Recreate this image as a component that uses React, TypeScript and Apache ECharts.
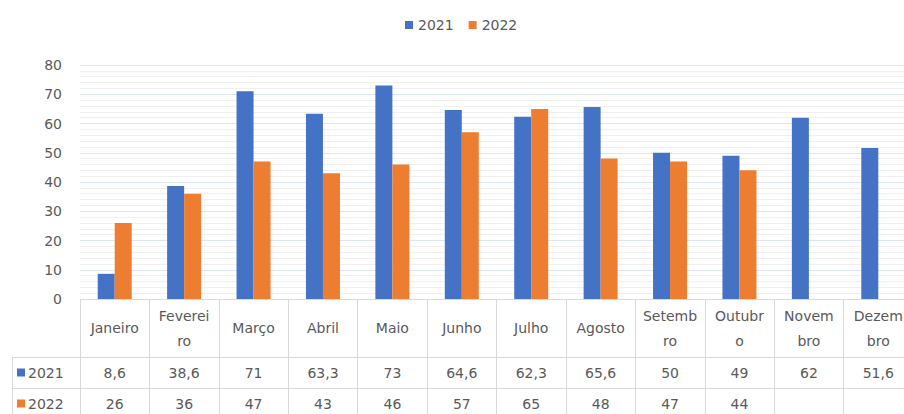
import React, { useEffect, useRef } from "react";
import * as echarts from "echarts";

const months = ["Janeiro","Fevereiro","Março","Abril","Maio","Junho","Julho","Agosto","Setembro","Outubro","Novembro","Dezembro"];
const monthBreaks = [0, 7, 0, 0, 0, 0, 0, 0, 6, 6, 5, 5];
const seriesNames = ["2021", "2022"];
const values2021 = [8.6, 38.6, 71, 63.3, 73, 64.6, 62.3, 65.6, 50, 49, 62, 51.6];
const values2022: (number | null)[] = [26, 36, 47, 43, 46, 57, 65, 48, 47, 44, null, null];
const colors = ["#4472C4", "#ED7D31"];
const yTicks = { min: 0, max: 80, interval: 10 };

const FONT = "DejaVu Sans";
const TEXT = "#595959";
const LINE = "#D9D9D9";

const fmt = (v: number | null) => (v === null ? "" : String(v).replace(".", ","));

export default function App() {
  const ref = useRef<HTMLDivElement>(null);
  useEffect(() => {
    if (!ref.current) return;
    const chart = echarts.init(ref.current, undefined, { renderer: "svg" });
    const gridTop = 65;
    const gridBottomY = 299;
    const row1 = 58;
    const row2 = 31;
    const tableLeft = 12;
    const gridLeft = 80;
    const commonAxis = {
      type: "category" as const,
      position: "bottom" as const,
      gridIndex: 0,
      boundaryGap: true,
      axisLine: { show: true, lineStyle: { color: LINE, width: 1 } },
      axisTick: { show: true, interval: 0, lineStyle: { color: LINE, width: 1 } },
      splitLine: { show: false },
    };
    chart.setOption({
      animation: false,
      textStyle: { fontFamily: FONT },
      legend: {
        data: seriesNames,
        left: 400,
        top: 13,
        itemWidth: 8,
        itemHeight: 8,
        itemGap: 15,
        icon: "rect",
        textStyle: { color: TEXT, fontSize: 14, fontFamily: FONT },
      },
      grid: { left: gridLeft, right: 0, top: gridTop, bottom: 414 - gridBottomY, containLabel: false },
      yAxis: {
        type: "value",
        min: yTicks.min,
        max: yTicks.max,
        interval: yTicks.interval,
        axisLine: { show: false },
        axisTick: { show: false },
        axisLabel: { color: TEXT, fontSize: 14, margin: 18, fontFamily: FONT },
        splitLine: { show: true, lineStyle: { color: "#DCE5F4", width: 1 } },
        minorTick: { show: false, splitNumber: 5 },
        minorSplitLine: { show: true, lineStyle: { color: "#F0F0F0", width: 1 } },
      },
      xAxis: [
        {
          ...commonAxis,
          data: months,
          offset: 0,
          axisTick: { ...commonAxis.axisTick, length: row1 },
          axisLabel: {
            interval: 0,
            color: TEXT,
            fontSize: 14,
            fontFamily: FONT,
            lineHeight: 25,
            verticalAlign: "middle",
            margin: row1 / 2,
            formatter: (v: string, i: number) => {
              const b = monthBreaks[i];
              return b ? v.slice(0, b) + "\n" + v.slice(b) : v;
            },
          },
        },
        {
          ...commonAxis,
          data: values2021.map(fmt),
          offset: row1,
          axisTick: { ...commonAxis.axisTick, length: row2 },
          axisLabel: { interval: 0, color: TEXT, fontSize: 14, fontFamily: FONT, verticalAlign: "middle", margin: row2 / 2 },
        },
        {
          ...commonAxis,
          data: values2022.map(fmt),
          offset: row1 + row2,
          axisTick: { ...commonAxis.axisTick, length: row2 },
          axisLabel: { interval: 0, color: TEXT, fontSize: 14, fontFamily: FONT, verticalAlign: "middle", margin: row2 / 2 },
        },
      ],
      series: [
        {
          name: seriesNames[0],
          type: "bar",
          xAxisIndex: 0,
          yAxisIndex: 0,
          data: values2021,
          barWidth: 17,
          barGap: "0%",
          itemStyle: { color: colors[0] },
        },
        {
          name: seriesNames[1],
          type: "bar",
          xAxisIndex: 0,
          yAxisIndex: 0,
          data: values2022,
          barWidth: 17,
          barGap: "0%",
          itemStyle: { color: colors[1] },
        },
      ],
      graphic: [
        { type: "line", shape: { x1: tableLeft, y1: gridBottomY + row1 + 0.5, x2: gridLeft, y2: gridBottomY + row1 + 0.5 }, style: { stroke: LINE, lineWidth: 1 } },
        { type: "line", shape: { x1: tableLeft, y1: gridBottomY + row1 + row2 + 0.5, x2: gridLeft, y2: gridBottomY + row1 + row2 + 0.5 }, style: { stroke: LINE, lineWidth: 1 } },
        { type: "line", shape: { x1: tableLeft + 0.5, y1: gridBottomY + row1, x2: tableLeft + 0.5, y2: 414 }, style: { stroke: LINE, lineWidth: 1 } },
        ...seriesNames.flatMap((name, i) => {
          const cy = gridBottomY + row1 + row2 * i + row2 / 2;
          return [
            { type: "rect", shape: { x: 17, y: cy - 4, width: 8, height: 8 }, style: { fill: colors[i] } },
            { type: "text", x: 28, y: cy, style: { text: name, fill: TEXT, font: `14px '${FONT}'`, verticalAlign: "middle" } },
          ];
        }),
      ],
    });
    return () => chart.dispose();
  }, []);
  return (
    <div style={{ position: "fixed", left: 0, top: 0, width: 904, height: 414, overflow: "hidden", background: "#fff" }}>
      <div ref={ref} style={{ width: 913, height: 414 }} />
    </div>
  );
}
